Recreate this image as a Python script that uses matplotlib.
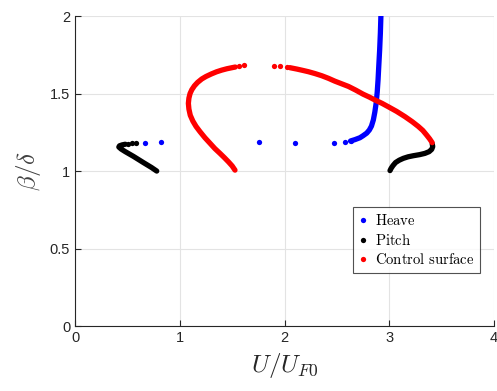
import numpy as np
import matplotlib
matplotlib.use('Agg')
import matplotlib.pyplot as plt

plt.rcParams['mathtext.fontset'] = 'cm'
plt.rcParams['font.family'] = ['Liberation Sans', 'DejaVu Sans']

# Heave (blue): dense branch + sparse points
heave_x = [2.63, 2.673, 2.72, 2.75, 2.785, 2.81, 2.83, 2.848, 2.862, 2.875, 2.885,
           2.893, 2.90, 2.908, 2.915, 2.92]
heave_y = [1.194, 1.203, 1.215, 1.228, 1.245, 1.265, 1.29, 1.33, 1.38, 1.44, 1.51,
           1.59, 1.68, 1.78, 1.89, 2.0]
heave_dots_x = [0.668, 0.818, 1.76, 2.10, 2.47, 2.575, 2.63]
heave_dots_y = [1.183, 1.187, 1.186, 1.183, 1.183, 1.187, 1.194]

# Pitch (black): left and right branches
pitch_l_x = [0.78, 0.73, 0.652, 0.557, 0.48, 0.44, 0.418, 0.425, 0.45, 0.48]
pitch_l_y = [1.0, 1.023, 1.055, 1.095, 1.125, 1.142, 1.155, 1.163, 1.169, 1.173]
pitch_r_x = [3.007, 3.018, 3.035, 3.06, 3.095, 3.134, 3.18, 3.23, 3.29, 3.34, 3.38,
             3.405, 3.415, 3.41]
pitch_r_y = [1.003, 1.018, 1.035, 1.055, 1.07, 1.082, 1.092, 1.099, 1.106, 1.114,
             1.125, 1.14, 1.158, 1.175]
pitch_dots_x = [0.505, 0.545, 0.585]
pitch_dots_y = [1.176, 1.179, 1.181]

# Control surface (red): left arc and right branch
ctrl_l_x = [1.527, 1.50, 1.464, 1.425, 1.384, 1.335, 1.289, 1.24, 1.193, 1.155,
            1.125, 1.10, 1.087, 1.082, 1.087, 1.098, 1.115, 1.14, 1.17, 1.21,
            1.25, 1.30, 1.35, 1.40, 1.45, 1.50, 1.53]
ctrl_l_y = [1.006, 1.033, 1.06, 1.087, 1.114, 1.145, 1.179, 1.215, 1.254, 1.288,
            1.322, 1.36, 1.40, 1.437, 1.47, 1.50, 1.525, 1.55, 1.572, 1.594,
            1.61, 1.626, 1.64, 1.651, 1.66, 1.667, 1.671]
ctrl_r_x = [2.05, 2.117, 2.17, 2.227, 2.29, 2.355, 2.42, 2.48, 2.545, 2.61, 2.68,
            2.75, 2.81, 2.864, 2.93, 2.99, 3.07, 3.15, 3.22, 3.277, 3.32, 3.357,
            3.385, 3.41]
ctrl_r_y = [1.667, 1.658, 1.65, 1.641, 1.629, 1.615, 1.598, 1.58, 1.563, 1.546,
            1.522, 1.496, 1.477, 1.458, 1.437, 1.415, 1.385, 1.351, 1.318, 1.288,
            1.262, 1.232, 1.208, 1.183]
ctrl_dots_x = [1.569, 1.613, 1.903, 1.957, 2.02]
ctrl_dots_y = [1.677, 1.684, 1.68, 1.677, 1.671]

fig = plt.figure(figsize=(4.97, 3.91), dpi=100)
ax = fig.add_axes([0.151, 0.166, 0.843, 0.793])

lw = 3.8
ms = 3.8
kw = dict(lw=lw, solid_capstyle='round', solid_joinstyle='round')
ax.plot(heave_x, heave_y, color='#0000ff', **kw)
ax.plot(heave_dots_x, heave_dots_y, 'o', color='#0000ff', ms=ms, mec='none', label='$\\mathrm{Heave}$')
ax.plot(pitch_l_x, pitch_l_y, color='black', **kw)
ax.plot(pitch_r_x, pitch_r_y, color='black', **kw)
ax.plot(pitch_dots_x, pitch_dots_y, 'o', color='black', ms=ms, mec='none', label='$\\mathrm{Pitch}$')
ax.plot(ctrl_l_x, ctrl_l_y, color='#ff0000', **kw)
ax.plot(ctrl_r_x, ctrl_r_y, color='#ff0000', **kw)
ax.plot(ctrl_dots_x, ctrl_dots_y, 'o', color='#ff0000', ms=ms, mec='none',
        label='$\\mathrm{Control\\ surface}$')

ax.set_xlim(0, 4)
ax.set_ylim(0, 2)
ax.set_xticks([0, 1, 2, 3, 4])
ax.set_yticks([0, 0.5, 1, 1.5, 2])
ax.set_yticklabels(['0', '0.5', '1', '1.5', '2'])
ax.grid(True, color='#e3e3e3', lw=0.8)
ax.set_axisbelow(True)
for s in ['top', 'right']:
    ax.spines[s].set_visible(False)
for s in ['left', 'bottom']:
    ax.spines[s].set_color('#262626')
    ax.spines[s].set_linewidth(0.8)
ax.tick_params(direction='in', length=4, width=0.8, colors='#262626', labelsize=10.5)

ax.set_xlabel('$U/U_{F0}$', fontsize=18, color='#262626', labelpad=4)
ax.set_ylabel('$\\beta/\\delta$', fontsize=18, color='#404040', labelpad=5)

leg = ax.legend(loc='lower left', bbox_to_anchor=(0.663, 0.171), fontsize=10.6,
                frameon=True, fancybox=False, handlelength=0.6, handletextpad=0.5,
                borderpad=0.4, labelspacing=0.3, borderaxespad=0)
leg.get_frame().set_edgecolor('#262626')
leg.get_frame().set_linewidth(0.8)

plt.savefig('out.png', dpi=100)
plt.close()
